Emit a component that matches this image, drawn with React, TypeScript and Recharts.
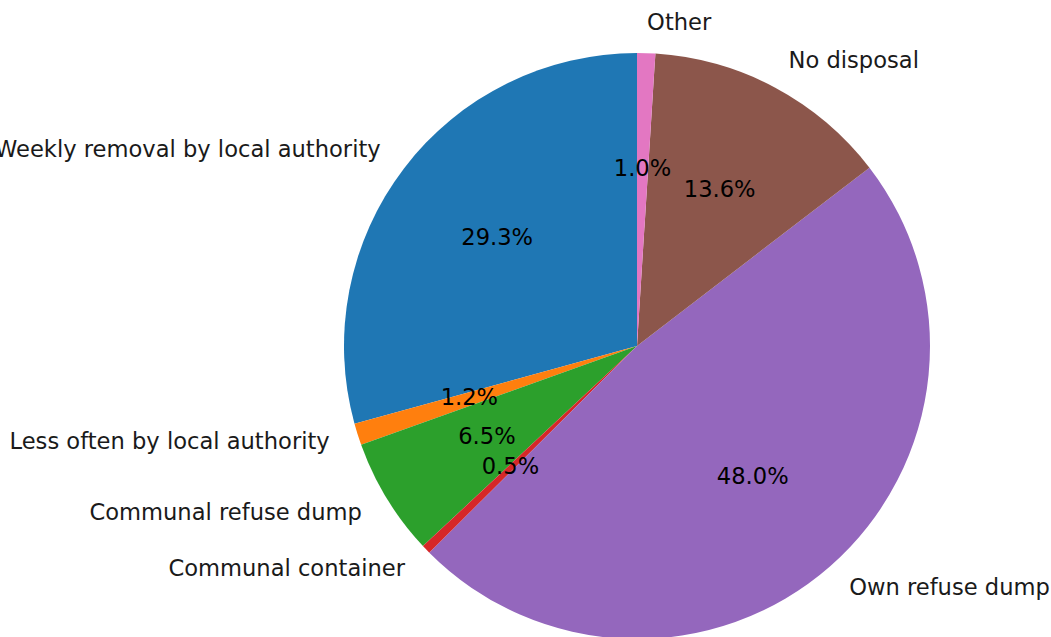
import { Cell, Pie, PieChart } from "recharts";

const CATEGORIES = [
  "Weekly removal by local authority",
  "Less often by local authority",
  "Communal refuse dump",
  "Communal container",
  "Own refuse dump",
  "No disposal",
  "Other",
];

const SHARES = [29.3, 1.2, 6.5, 0.5, 48.0, 13.6, 1.0];

const COLORS = ["#1f77b4", "#ff7f0e", "#2ca02c", "#d62728", "#9467bd", "#8c564b", "#e377c2"];

const data = CATEGORIES.map((name, i) => ({ name, value: SHARES[i] }));

const RAD = Math.PI / 180;
const FONT = "'DejaVu Sans', sans-serif";

function renderLabel(props: any) {
  const { cx, cy, midAngle, outerRadius, percent, name } = props;
  const cos = Math.cos(-midAngle * RAD);
  const sin = Math.sin(-midAngle * RAD);
  const ox = cx + outerRadius * 1.1 * cos;
  const oy = cy + outerRadius * 1.1 * sin - 2;
  const ix = cx + outerRadius * 0.6 * cos;
  const iy = cy + outerRadius * 0.6 * sin - 2;
  return (
    <g>
      <text
        x={ox}
        y={oy}
        textAnchor={cos > 0 ? "start" : "end"}
        dominantBaseline="central"
        fontSize={22.6}
        fontFamily={FONT}
        fill="#1a1a1a"
      >
        {name}
      </text>
      <text
        x={ix}
        y={iy}
        textAnchor="middle"
        dominantBaseline="central"
        fontSize={22.6}
        fontFamily={FONT}
        fill="#000"
      >
        {(percent * 100).toFixed(1)}%
      </text>
    </g>
  );
}

export default function App() {
  return (
    <div style={{ width: 1051, height: 637, background: "#fff" }}>
      <style>{`body{margin:0}`}</style>
      <PieChart width={1051} height={637} margin={{ top: 0, right: 0, bottom: 0, left: 0 }}>
        <Pie
          data={data}
          dataKey="value"
          nameKey="name"
          cx={637}
          cy={346}
          outerRadius={293}
          startAngle={90}
          endAngle={450}
          stroke="none"
          labelLine={false}
          label={renderLabel}
          isAnimationActive={false}
        >
          {data.map((d, i) => (
            <Cell key={d.name} fill={COLORS[i]} />
          ))}
        </Pie>
      </PieChart>
    </div>
  );
}
